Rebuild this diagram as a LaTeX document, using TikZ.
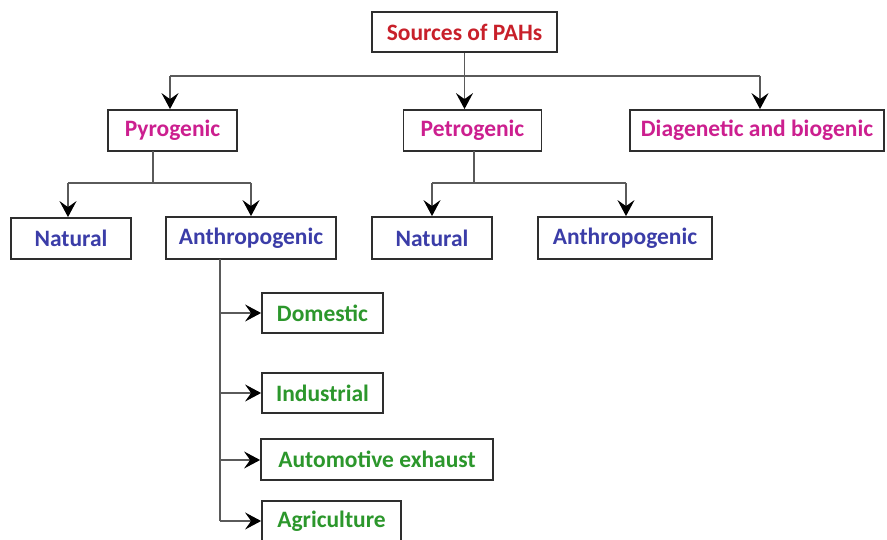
\documentclass[tikz,border=0pt]{standalone}
\usepackage{fontspec}
\setmainfont{Carlito}
\usetikzlibrary{arrows.meta}
\definecolor{cred}{HTML}{C8202A}
\definecolor{cmag}{HTML}{CC1F8F}
\definecolor{cblue}{HTML}{3B3DA8}
\definecolor{cgreen}{HTML}{2C972C}
\definecolor{cline}{HTML}{5A5A5A}
\definecolor{cbox}{HTML}{2E2E2E}
\begin{document}
\begin{tikzpicture}[x=1pt,y=-1pt,
  box/.style={draw=cbox, line width=1.8pt, fill=white, inner sep=0pt,
    font=\fontsize{23.5}{28}\selectfont\bfseries},
  conn/.style={draw=cline, line width=1.3pt},
  arr/.style={conn, -{Stealth[length=16pt,width=17pt,inset=6pt,color=black]}}]
\useasboundingbox (0,0) rectangle (887,540);
\fill[white] (0,0) rectangle (887,540);
% nodes
\node[box, text=cred, minimum width=185pt, minimum height=40pt] (src) at (464.5,32) {Sources of PAHs};
\node[box, text=cmag, minimum width=129pt, minimum height=41pt] (pyro) at (172.5,130.5) {Pyrogenic};
\node[box, text=cmag, minimum width=138pt, minimum height=41pt] (petro) at (472.5,130.5) {Petrogenic};
\node[box, text=cmag, minimum width=254pt, minimum height=41pt] (diag) at (757,130.5) {Diagenetic and biogenic};
\node[box, text=cblue, minimum width=120pt, minimum height=41pt] (nat1) at (71,238.5) {Natural};
\node[box, text=cblue, minimum width=170pt, minimum height=42pt] (anth1) at (251,238) {Anthropogenic};
\node[box, text=cblue, minimum width=120pt, minimum height=42pt] (nat2) at (432,238) {Natural};
\node[box, text=cblue, minimum width=174pt, minimum height=42pt] (anth2) at (625,238) {Anthropogenic};
\node[box, text=cgreen, minimum width=121pt, minimum height=40pt] (dom) at (322.5,313) {Domestic};
\node[box, text=cgreen, minimum width=121pt, minimum height=40pt] (ind) at (322.5,393) {Industrial};
\node[box, text=cgreen, minimum width=232pt, minimum height=41pt] (auto) at (377,459.5) {Automotive exhaust};
\node[box, text=cgreen, minimum width=139pt, minimum height=41pt] (agri) at (331.5,521.5) {Agriculture};
% junction coordinates
\coordinate (jL) at (170,76);
\coordinate (jR) at (760,76);
\coordinate (pyS) at (153,151);
\coordinate (pyJ) at (153,183);
\coordinate (pyL) at (68,183);
\coordinate (pyR) at (251,183);
\coordinate (peS) at (474,151);
\coordinate (peJ) at (474,183);
\coordinate (peL) at (432,183);
\coordinate (peR) at (626,183);
\coordinate (anS) at (220,259);
\coordinate (aD) at (220,313);
\coordinate (aI) at (220,393);
\coordinate (aA) at (220,460);
\coordinate (aG) at (220,521);
% connectors
\draw[conn] (jL) -- (jR);
\draw[arr] (src.south) -- (src.south |- petro.north);
\draw[arr] (jL) -- (jL |- pyro.north);
\draw[arr] (jR) -- (jR |- diag.north);
\draw[conn] (pyS) -- (pyJ);
\draw[conn] (pyL) -- (pyR);
\draw[arr] (pyL) -- (pyL |- nat1.north);
\draw[arr] (pyR) -- (pyR |- anth1.north);
\draw[conn] (peS) -- (peJ);
\draw[conn] (peL) -- (peR);
\draw[arr] (peL) -- (peL |- nat2.north);
\draw[arr] (peR) -- (peR |- anth2.north);
\draw[conn] (anS) -- (aG);
\draw[arr] (aD) -- (dom.west);
\draw[arr] (aI) -- (ind.west);
\draw[arr] (aA) -- (aA -| auto.west);
\draw[arr] (aG) -- (aG -| agri.west);
\end{tikzpicture}
\end{document}
